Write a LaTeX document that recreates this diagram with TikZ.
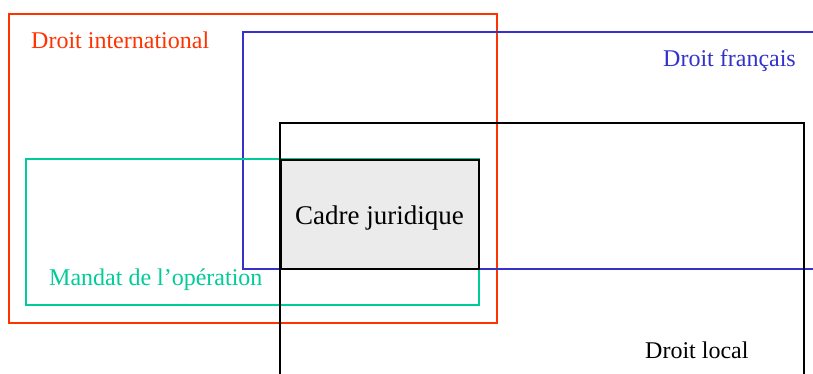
\documentclass[tikz,border=0pt]{standalone}
\usepackage{fontspec}
\setmainfont{Liberation Serif}
\definecolor{cred}{RGB}{255,51,0}
\definecolor{cblue}{RGB}{51,51,204}
\definecolor{cgreen}{RGB}{0,204,153}
\tikzset{
  frame/.style={line width=2pt},
  lbl/.style={inner sep=0pt, anchor=base west, font=\fontsize{24}{28}\selectfont},
}
\begin{document}
\begin{tikzpicture}[x=1pt,y=-1pt]
\useasboundingbox (0,0) rectangle (813,374);
\clip (0,0) rectangle (813,374);
\fill[white] (0,0) rectangle (813,374);
% Droit international
\draw[frame, cred] (9,14) rectangle (497,323);
% Droit francais
\draw[frame, cblue] (243,32) rectangle (840,269);
% Mandat
\draw[frame, cgreen] (26,159) rectangle (479,305);
% Droit local
\draw[frame, black] (280,123) rectangle (804,400);
% Cadre juridique
\draw[frame, black, fill=black!8] (281,160) rectangle (479,269);
\node[lbl, text=cred] (di) at (31,49) {Droit international};
\node[lbl, text=cblue] (df) at (663,67) {Droit français};
\node[lbl, text=cgreen] (mo) at (49,285) {Mandat de l’opération};
\node[lbl, text=black] (dl) at (645,358) {Droit local};
\node[lbl, text=black, font=\fontsize{27}{32}\selectfont] (cj) at (295,224) {Cadre juridique};
\end{tikzpicture}
\end{document}
